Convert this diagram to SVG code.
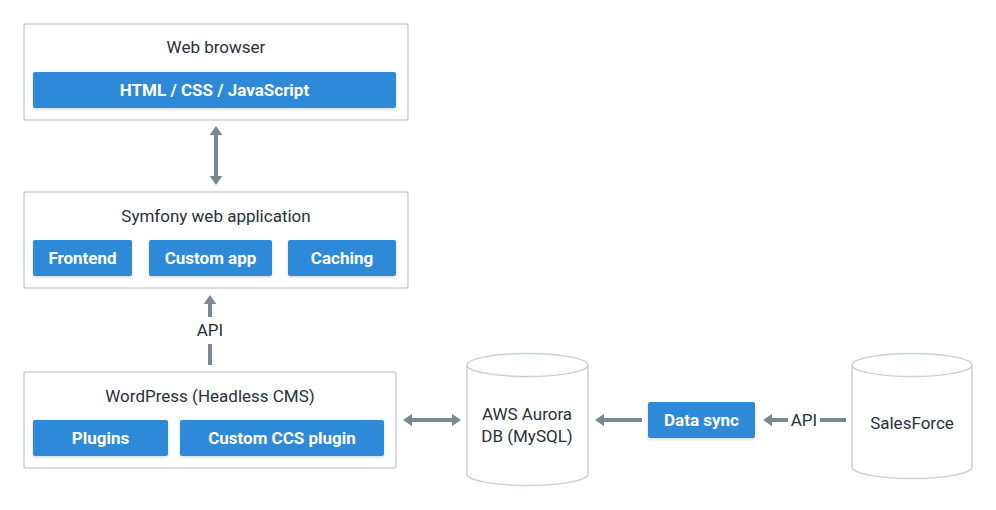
<svg xmlns="http://www.w3.org/2000/svg" width="996" height="510" viewBox="0 0 996 510">
<style>
.box{fill:#fff;stroke:#c6d1db;stroke-width:1.5}
.btn{fill:#2e89d9;filter:url(#sh)}
.title{font-family:Roboto,"Noto Sans",sans-serif;font-size:17px;font-weight:400;fill:#27313d;text-anchor:middle}
.bt{font-family:Roboto,"Noto Sans",sans-serif;font-size:17px;font-weight:700;fill:#fff;text-anchor:middle}
.conn{stroke:#7a8795;stroke-width:4;fill:none}
.cyl{fill:#fff;stroke:#c6d1db;stroke-width:1.5}
</style>
<defs>
<filter id="sh" x="-10%" y="-20%" width="120%" height="150%">
<feDropShadow dx="0" dy="1.5" stdDeviation="1.5" flood-color="#000" flood-opacity="0.15"/>
</filter>
<marker id="ah" viewBox="0 0 7 10" refX="1" refY="5" markerWidth="2.3" markerHeight="3.3" orient="auto-start-reverse" markerUnits="strokeWidth">
<path d="M0,0 L7,5 L0,10 z" fill="#7a8795"/>
</marker>
</defs>
<rect width="996" height="510" fill="#fff"/>

<g id="web-browser">
<rect class="box" x="24" y="24" width="384" height="96" rx="2"/>
<text class="title" x="216" y="53">Web browser</text>
<rect class="btn" x="33" y="72" width="363" height="36" rx="2"/>
<text class="bt" x="214.5" y="96">HTML / CSS / JavaScript</text>
</g>

<g id="symfony">
<rect class="box" x="24" y="192" width="384" height="96" rx="2"/>
<text class="title" x="216" y="222">Symfony web application</text>
<rect class="btn" x="33" y="240" width="99" height="36" rx="2"/>
<text class="bt" x="82.5" y="264">Frontend</text>
<rect class="btn" x="149" y="240" width="123" height="36" rx="2"/>
<text class="bt" x="210.5" y="264">Custom app</text>
<rect class="btn" x="288" y="240" width="108" height="36" rx="2"/>
<text class="bt" x="342" y="264">Caching</text>
</g>

<g id="wordpress">
<rect class="box" x="24" y="372" width="372" height="96" rx="2"/>
<text class="title" x="210" y="402">WordPress (Headless CMS)</text>
<rect class="btn" x="33" y="420" width="135" height="36" rx="2"/>
<text class="bt" x="100.5" y="444">Plugins</text>
<rect class="btn" x="180" y="420" width="204" height="36" rx="2"/>
<text class="bt" x="282" y="444">Custom CCS plugin</text>
</g>

<g id="aurora">
<path class="cyl" d="M467,365 L467,474 A60.5,11.5 0 0 0 588,474 L588,365 A60.5,11.5 0 0 0 467,365 A60.5,11.5 0 0 0 588,365"/>
<text class="title" x="527" y="420">AWS Aurora</text>
<text class="title" x="527" y="442">DB (MySQL)</text>
</g>

<g id="data-sync">
<rect class="btn" x="648" y="402" width="107" height="36" rx="2"/>
<text class="bt" x="701.5" y="426">Data sync</text>
</g>

<g id="salesforce">
<path class="cyl" d="M852,365 L852,467 A60,11.5 0 0 0 972,467 L972,365 A60,11.5 0 0 0 852,365 A60,11.5 0 0 0 972,365"/>
<text class="title" x="912" y="429">SalesForce</text>
</g>

<g id="connectors">
<line class="conn" x1="216" y1="134" x2="216" y2="177" marker-start="url(#ah)" marker-end="url(#ah)"/>
<line class="conn" x1="210" y1="365" x2="210" y2="344"/>
<line class="conn" x1="210" y1="317" x2="210" y2="303" marker-end="url(#ah)"/>
<text class="title" x="210" y="336">API</text>
<line class="conn" x1="411" y1="420" x2="453" y2="420" marker-start="url(#ah)" marker-end="url(#ah)"/>
<line class="conn" x1="642" y1="420" x2="603" y2="420" marker-end="url(#ah)"/>
<line class="conn" x1="846" y1="420" x2="820" y2="420"/>
<line class="conn" x1="788" y1="420" x2="771" y2="420" marker-end="url(#ah)"/>
<text class="title" x="804" y="426">API</text>
</g>
</svg>
